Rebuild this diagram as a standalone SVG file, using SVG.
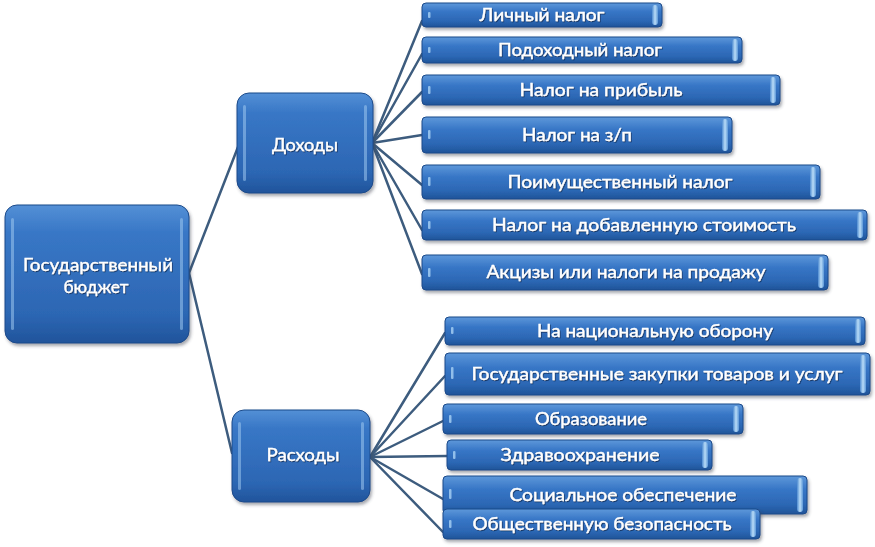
<svg xmlns="http://www.w3.org/2000/svg" width="875" height="547" viewBox="0 0 875 547">
<defs>
<linearGradient id="gBox" x1="0" y1="0" x2="0" y2="1">
<stop offset="0" stop-color="#5e98da"/>
<stop offset="0.35" stop-color="#3776c6"/>
<stop offset="0.75" stop-color="#2c67b4"/>
<stop offset="1" stop-color="#1f5499"/>
</linearGradient>
<linearGradient id="gBig" x1="0" y1="0" x2="0" y2="1">
<stop offset="0" stop-color="#5490d6"/>
<stop offset="0.2" stop-color="#3877c6"/>
<stop offset="0.8" stop-color="#2c66b3"/>
<stop offset="1" stop-color="#20549b"/>
</linearGradient>
<linearGradient id="gEnd" x1="0" y1="0" x2="1" y2="0">
<stop offset="0" stop-color="#4d8ad0"/>
<stop offset="0.5" stop-color="#b9dcf7"/>
<stop offset="1" stop-color="#5d98d8"/>
</linearGradient>
<filter id="sh" x="-10%" y="-20%" width="120%" height="150%">
<feDropShadow dx="1.5" dy="2.5" stdDeviation="1.8" flood-color="#3a4050" flood-opacity="0.45"/>
</filter>
<filter id="ts" x="-5%" y="-30%" width="110%" height="160%">
<feDropShadow dx="0.8" dy="1" stdDeviation="0.6" flood-color="#0b2a55" flood-opacity="0.8"/>
</filter>
</defs>
<style>
.big{fill:url(#gBig);stroke:#1b4a8a;stroke-width:1;filter:url(#sh)}
.box{fill:url(#gBox);stroke:#1b4a8a;stroke-width:1;filter:url(#sh)}
.hl{fill:#9cc6ef;opacity:0.55}
.end{fill:url(#gEnd)}
.mk{fill:#a9d2f5;opacity:0.8}
.t{fill:#ffffff;stroke:#ffffff;stroke-width:0.35;font-family:Lato,"Open Sans","Liberation Sans",sans-serif;font-size:17px;text-anchor:middle;filter:url(#ts)}
.tb{font-size:18px}
.c{fill:none;stroke:#3d5c7e;stroke-width:2.5;stroke-linecap:round}
</style>

<g id="connectors">
<path class="c" d="M189 273 L238 147"/>
<path class="c" d="M189 273 L232 453"/>
<path class="c" d="M372 143 L422 21"/>
<path class="c" d="M372 143 L422 54"/>
<path class="c" d="M372 143 L422 92"/>
<path class="c" d="M372 143 L422 135"/>
<path class="c" d="M372 143 L422 185"/>
<path class="c" d="M372 143 L422 230"/>
<path class="c" d="M372 143 L422 274"/>
<path class="c" d="M370 457 L445 333"/>
<path class="c" d="M370 457 L445 376"/>
<path class="c" d="M370 457 L443 421"/>
<path class="c" d="M370 457 L447 456"/>
<path class="c" d="M370 457 L443 499"/>
<path class="c" d="M370 457 L443 532"/>
</g>

<g id="root">
<rect class="big" x="5" y="205" width="184" height="138" rx="12"/>
<rect class="hl" x="11" y="218" width="3" height="112" rx="1.5"/>
<rect class="hl" x="180" y="218" width="3" height="112" rx="1.5"/>
<text class="t tb" x="98" y="271" textLength="150" lengthAdjust="spacingAndGlyphs">Государственный</text>
<text class="t tb" x="96" y="293" textLength="65" lengthAdjust="spacingAndGlyphs">бюджет</text>
</g>

<g id="dohody">
<rect class="big" x="237" y="93" width="136" height="100" rx="12"/>
<rect class="hl" x="243" y="105" width="3" height="76" rx="1.5"/>
<rect class="hl" x="364" y="105" width="3" height="76" rx="1.5"/>
<text class="t tb" x="305" y="151" textLength="66" lengthAdjust="spacingAndGlyphs">Доходы</text>
</g>

<g id="rashody">
<rect class="big" x="232" y="410" width="138" height="92" rx="12"/>
<rect class="hl" x="238" y="422" width="3" height="68" rx="1.5"/>
<rect class="hl" x="361" y="422" width="3" height="68" rx="1.5"/>
<text class="t tb" x="303" y="461" textLength="73" lengthAdjust="spacingAndGlyphs">Расходы</text>
</g>

<g id="i1">
<rect class="box" x="422" y="3" width="240" height="24" rx="4"/>
<rect class="mk" x="428" y="12" width="2.5" height="6" rx="1"/>
<rect class="end" x="652" y="5" width="6" height="20" rx="3"/>
<text class="t" x="542" y="21" textLength="125" lengthAdjust="spacingAndGlyphs">Личный налог</text>
</g>
<g id="i2">
<rect class="box" x="422" y="37" width="320" height="26" rx="4"/>
<rect class="mk" x="428" y="47" width="2.5" height="6" rx="1"/>
<rect class="end" x="732" y="39" width="6" height="22" rx="3"/>
<text class="t" x="580" y="56" textLength="164" lengthAdjust="spacingAndGlyphs">Подоходный налог</text>
</g>
<g id="i3">
<rect class="box" x="422" y="75" width="358" height="30" rx="4"/>
<rect class="mk" x="428" y="86" width="2.5" height="8" rx="1"/>
<rect class="end" x="770" y="77" width="6" height="26" rx="3"/>
<text class="t" x="601" y="96" textLength="163" lengthAdjust="spacingAndGlyphs">Налог на прибыль</text>
</g>
<g id="i4">
<rect class="box" x="422" y="117" width="310" height="36" rx="4"/>
<rect class="mk" x="428" y="130" width="2.5" height="9" rx="1"/>
<rect class="end" x="722" y="119" width="6" height="32" rx="3"/>
<text class="t" x="577" y="141" textLength="110" lengthAdjust="spacingAndGlyphs">Налог на з/п</text>
</g>
<g id="i5">
<rect class="box" x="422" y="165" width="398" height="34" rx="4"/>
<rect class="mk" x="428" y="177" width="2.5" height="9" rx="1"/>
<rect class="end" x="810" y="167" width="6" height="30" rx="3"/>
<text class="t" x="620" y="188" textLength="225" lengthAdjust="spacingAndGlyphs">Поимущественный налог</text>
</g>
<g id="i6">
<rect class="box" x="422" y="210" width="445" height="30" rx="4"/>
<rect class="mk" x="428" y="221" width="2.5" height="8" rx="1"/>
<rect class="end" x="857" y="212" width="6" height="26" rx="3"/>
<text class="t" x="644" y="231" textLength="304" lengthAdjust="spacingAndGlyphs">Налог на добавленную стоимость</text>
</g>
<g id="i7">
<rect class="box" x="422" y="255" width="406" height="35" rx="4"/>
<rect class="mk" x="428" y="268" width="2.5" height="9" rx="1"/>
<rect class="end" x="818" y="257" width="6" height="31" rx="3"/>
<text class="t" x="626" y="278" textLength="279" lengthAdjust="spacingAndGlyphs">Акцизы или налоги на продажу</text>
</g>

<g id="e1">
<rect class="box" x="445" y="317" width="420" height="28" rx="4"/>
<rect class="mk" x="451" y="327" width="2.5" height="7" rx="1"/>
<rect class="end" x="855" y="319" width="6" height="24" rx="3"/>
<text class="t" x="655" y="337" textLength="236" lengthAdjust="spacingAndGlyphs">На национальную оборону</text>
</g>
<g id="e2">
<rect class="box" x="445" y="353" width="425" height="42" rx="4"/>
<rect class="mk" x="451" y="367" width="2.5" height="12" rx="1"/>
<rect class="end" x="860" y="355" width="6" height="38" rx="3"/>
<text class="t" x="657" y="380" textLength="371" lengthAdjust="spacingAndGlyphs">Государственные закупки товаров и услуг</text>
</g>
<g id="e3">
<rect class="box" x="443" y="404" width="300" height="30" rx="4"/>
<rect class="mk" x="449" y="415" width="2.5" height="8" rx="1"/>
<rect class="end" x="733" y="406" width="6" height="26" rx="3"/>
<text class="t" x="591" y="425" textLength="112" lengthAdjust="spacingAndGlyphs">Образование</text>
</g>
<g id="e4">
<rect class="box" x="447" y="440" width="265" height="30" rx="4"/>
<rect class="mk" x="453" y="451" width="2.5" height="8" rx="1"/>
<rect class="end" x="702" y="442" width="6" height="26" rx="3"/>
<text class="t" x="580" y="461" textLength="159" lengthAdjust="spacingAndGlyphs">Здравоохранение</text>
</g>
<g id="e5">
<rect class="box" x="443" y="476" width="364" height="38" rx="4"/>
<rect class="mk" x="449" y="489" width="2.5" height="10" rx="1"/>
<rect class="end" x="797" y="478" width="6" height="34" rx="3"/>
<text class="t" x="623" y="501" textLength="227" lengthAdjust="spacingAndGlyphs">Социальное обеспечение</text>
</g>
<g id="e6">
<rect class="box" x="443" y="509" width="317" height="30" rx="4"/>
<rect class="mk" x="449" y="520" width="2.5" height="8" rx="1"/>
<rect class="end" x="750" y="511" width="6" height="26" rx="3"/>
<text class="t" x="602" y="530" textLength="259" lengthAdjust="spacingAndGlyphs">Общественную безопасность</text>
</g>
</svg>
